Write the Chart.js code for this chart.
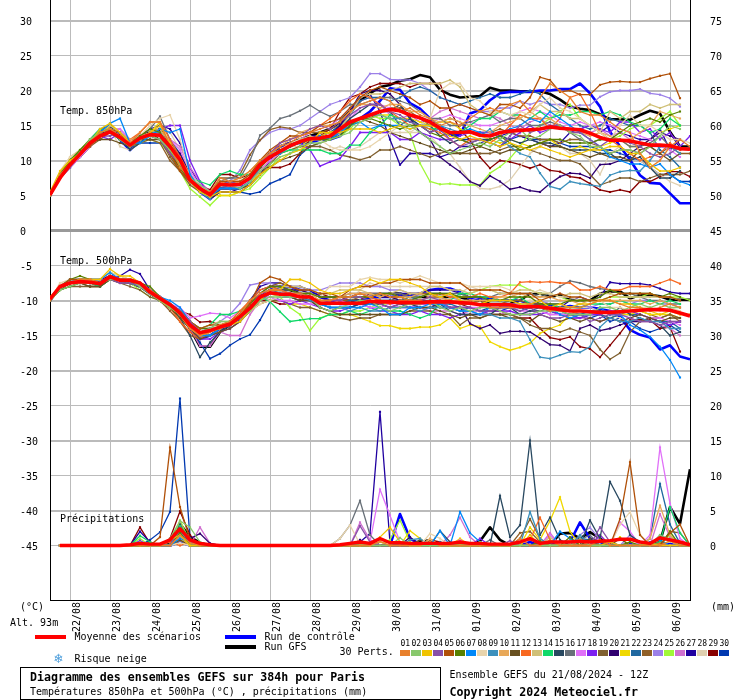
<!DOCTYPE html>
<html><head><meta charset="utf-8">
<style>
html,body{margin:0;padding:0;background:#fff}
#wrap{position:relative;width:740px;height:700px;overflow:hidden;font-family:"DejaVu Sans Mono",monospace;font-size:10px;color:#000}
canvas{position:absolute;left:0;top:0}
.t{position:absolute;white-space:pre;line-height:12px;height:12px}
.s{position:absolute}
.b{font-weight:bold;font-size:11.6px}
</style>
<script src="https://cdn.jsdelivr.net/npm/chart.js@4"></script>
</head><body><div id="wrap"><canvas id="c" width="740" height="700"></canvas>
<div class="t" style="left:60px;top:105px">Temp. 850hPa</div>
<div class="t" style="left:60px;top:255px">Temp. 500hPa</div>
<div class="t" style="left:60px;top:513px">Précipitations</div>
<div class="t" style="left:20px;top:601px">(°C)</div>
<div class="t" style="left:10px;top:617px">Alt. 93m</div>
<div class="t" style="left:711px;top:601px">(mm)</div>
<div class="s" style="left:35px;top:635px;width:31px;height:4px;background:#f00"></div>
<div class="t" style="left:74.5px;top:631px">Moyenne des scénarios</div>
<div class="s" style="left:225px;top:635px;width:31px;height:4px;background:#00f"></div>
<div class="t" style="left:264.5px;top:631px">Run de contrôle</div>
<div class="s" style="left:225px;top:645px;width:31px;height:4px;background:#000"></div>
<div class="t" style="left:264.5px;top:641px">Run GFS</div>
<div class="t" style="left:339.5px;top:646px">30 Perts.</div>
<div class="t" style="left:54px;top:652px;font-size:14px;color:#4f9fdc">❄</div>
<div class="t" style="left:74.5px;top:653px">Risque neige</div>
<div class="s" style="left:20px;top:667px;width:419px;height:31px;border:1px solid #000"></div>
<div class="t b" style="left:30px;top:671px">Diagramme des ensembles GEFS sur 384h pour Paris</div>
<div class="t" style="left:30px;top:686px">Températures 850hPa et 500hPa (°C) , précipitations (mm)</div>
<div class="t" style="left:449.5px;top:669px">Ensemble GEFS du 21/08/2024 - 12Z</div>
<div class="t b" style="left:449.5px;top:686px">Copyright 2024 Meteociel.fr</div>
</div>
<script>
const dayLabels=["22/08","23/08","24/08","25/08","26/08","27/08","28/08","29/08","30/08","31/08","01/09","02/09","03/09","04/09","05/09","06/09"];
const leftTicks=[30,25,20,15,10,5,0,-5,-10,-15,-20,-25,-30,-35,-40,-45];
const rightTicks=[75,70,65,60,55,50,45,40,35,30,25,20,15,10,5,0];
const memberColors=["#e8802c","#88c86c","#f0c400","#8850a8","#b05008","#588000","#0088f8","#e8d4ac","#3c90bc","#e8a858","#685020","#f86820","#d0c078","#10d868","#284860","#687078","#e070f8","#7c20f0","#806030","#300070","#f0d800","#2068a0","#906028","#9c80e8","#a0f838","#d070d0","#2000a0","#e0d0b0","#880000","#0038b0"];

const t850Mean=[5.1,7.5,9.4,10.9,12.5,13.5,14.1,13.3,12.2,13.2,13.7,13.6,12,10.1,7.2,6,5.1,6.6,6.5,6.6,7.5,9.4,10.5,11.3,12.1,12.7,13.1,13.2,13.5,14.5,15.5,16,16.5,17,17.3,17.1,16.5,16.1,15.5,14.6,14,14,14.1,13.6,13.5,14,14.2,14.3,14.4,14.5,14.8,14.6,14.5,14.4,13.9,13.3,12.9,12.9,12.8,12.5,12.2,12.2,12.1,11.7,11.6];
const t850Control=[5,8,10,11,12.5,13.5,14.5,13,11.5,13,14,14,12,10,7.5,5.5,4.5,6,6,6,7,9,11,12,12.5,12.5,12.5,13,13,13.5,15,16,17,18.5,20.3,20.1,18.2,17.4,16,14.4,13.6,13.6,16.7,17.2,18.6,19.6,19.8,19.8,19.8,20,20,20.2,20.2,21,19.6,17.7,14.1,12,10.1,7.9,6.8,6.7,5.3,3.9,3.9];
const t850Gfs=[5,8,10,11,12.5,14,15,13.5,12,13.5,14,14.5,12,10.5,7.5,6,5,6.5,6.5,6.5,7.5,9.5,11,12,12.5,13,13.5,14,14.5,15.5,17,18.5,19.6,20.5,20.8,21.4,21.6,22.2,21.9,20.1,19.4,19,19.1,19.2,20.4,20,20,19.9,19.9,19.9,19.5,18.7,17.7,17.4,17.2,16.6,15.9,15.9,15.8,16.5,17.1,16.7,14.1,12,12];

const t850m01=[5,8,9.5,11,12.5,14,14.5,13.5,12.5,14,15.5,15.5,12,9,7.5,6,5.5,7.5,7,7.5,8.5,10,11,12,12.5,13.5,14,14.5,15,15.5,17,18,18.5,19,18.5,17,17.5,16.5,16,15,15.5,15,16,17,17.5,17,18,18.5,17,19,21,20,19,17,16.5,16.5,15.5,14.5,14,11,9,10,12,13,12];
const t850m02=[5,7.5,9.5,11,13,14,14.5,13,12,13,13.5,13,11.5,9.5,7.5,6.5,5.5,6.5,6.5,6,7,8.5,9.5,10.5,11,12,12.5,12.5,13,13.5,14,15.5,16,16.5,16,15.5,15,14,13,12,11,11.5,12,12.5,12,13,14,14.5,13,13.5,14.5,15,14,13.5,12,12,11,11.5,11.5,11,12,13.5,15,14.5];
const t850m03=[5.5,8.5,10,11,12.5,14.5,15.3,14,12.5,13,14,15,12.5,10,7,5.5,4.8,5.5,5.5,5.5,6.5,8,9,10,11,11.5,12.5,14,14,14,14.5,14.5,14.5,14,14.5,15,14.5,15,15,14.5,13.5,13,13.5,13,12.5,12,12.5,12,11.5,12,11.5,11,10.5,11,11.5,11.5,12,12,11,11,9.5,8.5,8.5,9];
const t850m04=[5,7.5,9,11,12.5,13.5,13.5,14,12.5,13,13.5,13,11,9.5,7.5,6,5,6.5,7,6.5,7.5,9.5,11,12.5,13,13.5,14.5,15,14.5,15.5,16.5,17.5,18,18,17,16.5,15.5,15,14,14.5,13,12,12.5,13,12.5,12,13.5,15,14,14.5,15,15,14,14,13,12,13,13,12.5,12,11,10.5,11,12];
const t850m05=[5,8,9.5,11,12,13.5,14.5,14,12,13,14,13.5,11,8.5,7,6,5.5,7,7,7,8,10,11.5,12.5,13.5,13.5,14,15,15.5,16,17.5,19,20,20.5,20,19.5,19,18,18.5,17.5,17.5,18,17.5,17,16.5,18,18,17.5,19,21.9,21.5,19.8,20,19.4,19.4,20.8,21.2,21.3,21.2,21.2,21.7,22.1,22.4,18.9];
const t850m06=[5,8,10,11.5,13,14,14.5,13,12.5,13.5,14.5,14,11.5,9,7,6,5.2,6.5,7,6.5,7.5,9,10.5,11.5,12,12.5,13,13,13,13.5,15,16,16,15.5,15,14.5,15,15,14,13.5,14,13,12.5,12,13,13.5,12.5,11.5,12,12.5,13,13,12.5,12.5,12.5,13,13,14,15,15.5,16,15.5,16.5,17];
const t850m07=[5,8,9.5,11,12.5,14,15.3,16,12.5,12.5,13.5,14.5,14,14.5,8,6,4.8,6,6,6,7,9.5,10.5,11,12,12.5,13,13.5,13,14,15,15.5,14.5,15,15,15,14.5,15,15,15,14,14,14.5,14,13.5,14,14.5,15,16,15.5,17,16,15,14,13,12,10.5,10,9.5,9.5,9,9.5,8,7,6.5];
const t850m08=[5,8.5,10.5,11.5,13,14,14.5,14,12.5,13.5,15,16,16.5,13,8,6.5,5.5,7,7,7,8,9.5,10.5,11.5,12.5,13,13,13,12,11.5,11.5,11.5,12,13,14,15,14,15,16,20,21,21,19,18.5,17,17,16.5,17,16.5,18,19,17.5,17,16,15,14,13,15,16.5,15,15,14,13,13,12.5];
const t850m09=[5,8,9.5,11,12.5,14,14.5,13,12,13,14,14,12,10,7.5,5.5,4.5,6.5,6,6,7,9,10.5,11.5,12,12.5,13,13,13.5,14,15.5,16,16.5,16.5,16,16,15.5,15,16,15,14.5,14,14,13.5,14.5,13,12,11,10.5,8.2,6.3,5.9,7,6.7,6.5,6.3,7.9,8.4,8.6,8.5,10,12,12,11];
const t850m10=[5,8,9.5,11,12.5,14,14.5,14,13,13.5,14,14.5,12.5,10,8,6,5,7,6.5,7,8,9.5,11,12,13,14,14.5,15,15,15.5,17,18,18,17.5,18,18,17,17,16,15.5,16,15.5,15,14.5,14,15,15.5,16,17,16,16,15,14,14,13.5,14,13.5,13,13,14,15,17,16.5,16];
const t850m11=[5,7.5,9.5,11,12.5,13,13,12.5,12,13,13,13,11,9,7,5.5,4.5,6,6,6,6.5,8,9,10,10.5,11,12,12.5,13,14,15.5,16,15.5,15,14,13.5,13,12.5,12,11.5,11,11,11.5,12,11.5,11,11.5,11.5,12,12.5,12,12,11.5,11,10.5,11,10.5,10.5,10,11.5,12,11,10,11];
const t850m12=[5,8,10,11,12.5,13.5,14,13.5,13,14,15.5,15.5,13,10.5,8,6,5,6.5,7,7,8,9.5,11,12.5,13,13.5,14,15,16,17,18.5,19.5,19,18,17,16,15,15,14.5,14,13,12,13,13,12.5,13.5,15,16.5,16,16,14.5,16,19,19.5,17,14,13,12,11,10,10.5,11,12.5,11.5];
const t850m13=[5,8,10.5,11.5,13,14,15,14,12,13,14,14.5,11.5,9,7,6,5,6.5,7,7.5,8.5,10,11,11.5,12.5,13,13.5,13,13.5,14.5,16.5,19,19.5,19.5,20,20.5,21,21,21,21,21.5,20.5,18,17,16.5,17,16.5,16,17,18,17,17,16,16,15,14,17,16,17,17,18,17.5,18,18];
const t850m14=[5,8,10,11.5,13,14.5,14,13,12,13,13.5,13,11,9,7.5,7,6.5,8,8.5,8,8,9.5,10.5,11,11.5,11.5,11.5,11.5,11,11,12.2,12.2,14,15,16.5,16,15.5,15,14.5,14.5,14,14,15,16,16,17,16.5,16.5,16,17,16,16.5,16.5,17,17,16.5,17,16.5,15.5,15,14,14.5,16,15];
const t850m15=[5,7.5,9.5,11,13,14.5,15,13.5,11.5,12.5,14,14.5,12,10,8,6,4.5,6,6,6,7,9.5,11,11.5,12,13,13,13,13,14.5,16,17,18,18,17,18,16,15,15,13.5,12.5,13,12.5,13,13,13.5,13,12.5,13,12.5,12.5,12,11.5,11.5,11.5,11,11,10,10,10.5,9,7.5,7.5,8.5];
const t850m16=[5,8,9.5,11,12.5,14,14.5,13,12.5,13.5,14.5,16.3,13,10.5,7.5,6,5,7,7.5,7.5,10,13.6,14.6,16,16.4,17.1,17.9,17,16.3,17,18,18,18.5,19,19,18.5,18,17,16,16,15,15,15.5,16,16.5,15.5,16,16,15,15,15.5,15,14,13,12.5,13,13,13,12,12,12.5,13.5,12,11.5,12];
const t850m17=[5,7.5,9,10.5,12,13.5,14,14.5,13,13.5,13.5,14,13,11.5,8.5,6.5,5,6,6,6.5,7,8.5,10,11,12,12.5,13,13,13.5,14.5,16,17.5,18,18,17.5,17,16.5,16,15.5,16,16.5,16,15.5,15,15,15.5,16,17,17.5,17,16.5,15.5,15,15.5,15,15.5,15,14.5,14,13.5,13,12,11.5,10.5];
const t850m18=[5,7.5,9.5,11,12.5,13.5,13,14,12.5,13,14,14.5,15,15,10,7,5,6,6.5,6,7,9,10.5,11,12,12.5,11.5,9.2,9.8,10.3,12,14,14,14,14,13,13,14,13.5,13,13,13.5,14,14,14,13.5,13,14,15,14,14.5,15,14.5,14.5,15,14.5,14,15.5,15.5,14,14.5,13,14,12,13.5];
const t850m19=[5,8,9.5,10.5,12,13.5,14,14,12,13,13.5,13,10.5,8.5,6.5,5.5,4.8,6,6,6,6.5,8,9.5,11,11.5,12,12,12,11.5,10.8,10.5,10.1,10.5,11.5,11.5,12,11.5,11,10.5,11,11.5,11,11,11,11,11.5,12,12,11.5,11,10.5,10,10,9.5,8,6.5,7,7.5,7.5,7,7.5,8,8,8,8.5];
const t850m20=[5,7.5,9.5,11,12.5,14,14,13,12,13,13.5,14,12.5,11,8,6,4.5,5.5,5.5,5.5,6.5,8,10,12,12.5,12.5,13,13,13.5,15,17,19.5,20,20,19.5,18,16,14,13,10.5,9.4,8.4,7,6.4,7.8,7,5.9,6.2,5.7,5.5,6.7,7.7,8.2,8.1,7.5,9.4,9.5,10,11,12,13,14,13.5,13];
const t850m21=[5,8,10,11,12.5,13.5,15,14,12,13,14,15.5,12,9.5,7,5.5,5,5,5,5.5,6.5,8.5,10,11,11.5,12,13,13.5,14,14.5,15,15.5,16,16.5,16.5,16,16,15.5,15,15.5,15.5,14.5,14,13.5,13,12.5,13,12.5,12,12.5,13,12,11.5,12,11.5,12,12.5,13,12,12,13,14,14.5,15];
const t850m22=[5,8,9.5,11,12.5,14,14.5,13.5,12,13,14,14,13,11,8,6,4.7,6,6,6,7,9,10.5,11.5,12,13,13,13.5,14,15,16.5,18.5,19,19,18.5,19,20,20.5,20,19,18.5,18,18.5,19,19.5,19,19,19.5,20,19.5,18,17,16,15,14.5,15,16,15.5,15,15,14,11.5,10.5,9];
const t850m23=[5,7.5,9,10.5,12,13,14,13.5,12,12.5,13,12.5,10,8.5,7,6,5.2,7.5,7.5,8,10.8,12.9,14.4,14.8,14.6,14,14,14,14.5,15,15.5,16,16,17,17.5,17.5,17,16,15,15.5,16,15.5,14,14,14,14.5,14,13.5,13.5,13,13,12.5,13,13,12.5,12,11,11.5,11.5,11,12,11,12,11,11];
const t850m24=[5,7.5,9,10.5,12,13.5,14,14,13,13.5,13.5,13,12,10.5,8,6.5,5,6.5,7,8.6,11.5,12.9,14,14.5,14.5,15,16,17,18,18.5,19,20.5,22.4,22.4,21.6,21.5,21.5,21,20,19,18.5,18,17.5,17,17,17.5,17.5,18.5,18,18.5,18,18,17.5,17.9,17.9,19.1,19.8,20,20,20.2,19.6,19.4,18.9,17.7];
const t850m25=[5,8,10,11.5,12.5,13.5,14,13,12,12.5,13,12.5,11,8.5,6,4.8,3.6,5,5,5.5,6,7.5,9,10.5,11,11.5,12,12.5,13,13.5,14.5,16,16.5,16,16,15,13.9,9.6,7,6.6,6.7,6.5,6.5,6.5,8.2,9.1,10.3,12,14,15,16,17,18,16,15,14,13,13.5,14.5,15,15,16,17,15];
const t850m26=[5,7.5,9,10.5,12,13.5,14.5,14.5,13,13,14,14,13,12,9,7,5.5,6.5,6.5,6.5,7,8.5,10,11,12,13,14,14.5,15,16,17.5,18.5,19,18,16.5,16,16.5,15.5,16,17,17.5,17,16.5,16,16.5,16,15,14.5,15.5,16,15,14.5,14.5,14,14,14.5,13.5,14,13,12.5,12,12,12,11.5];
const t850m27=[5,7.5,9.5,11,12.5,14,14.5,13.5,12,13.5,14.5,15,14.5,12.5,9,6.5,4.5,5.5,5.5,6,7,9.5,11,12,12.5,13,13.5,13.5,14,15,17,19,19.5,17,13,9.4,11,11,11,10.5,11,12,12,12.5,13,13.5,14,13.5,13,12.5,12,12.5,14,14.5,15,14,15,14,13.5,13,13,14.5,11.5,13];
const t850m28=[5,8,10,11,12.5,14,14.5,12,11.5,12.5,13.5,15,14,11.5,8,6,5,6.5,6.5,6.5,7.5,9,10,11,12,12,11.5,11.5,11.5,12,11.5,12,13,14,14,14,14,14,13.5,12,11,9,7,6,5.9,6.3,7.2,9.1,11,12,13,12,11,11,10,8,11,12,11,10,9,8,7,6.4];
const t850m29=[5,8,9.5,11,12.5,13.5,14,13,12,13.5,14,13,11,9,7,6.5,5.8,8,8,7.5,8,9,9,9,9.5,11,13,13.5,14.5,17,19,19.5,20.5,21,21,21,20.5,21,21,21,17.2,14.4,12.9,10.5,8.9,10,9.8,9.4,8.9,9.4,8.6,8.4,7.7,7.5,6.7,5.8,5.5,5.8,5.5,7,7,7.7,8.4,8.4,7.7];
const t850m30=[5,7.5,9,10.5,12,13.5,14,13,11.5,12.5,12.5,12.5,12,9.5,7,5.5,4.5,5.5,5.5,5.5,5.2,5.5,6.7,7.3,8,10.8,12,12.5,13,13.5,15,15.5,16,17,17,15,16,15,14,15,14,13,13,13,12.5,12,13,13.5,13,13,13,12.5,12,12,12,11.5,11.5,11,10.5,10,9,8,8,7,7];

const t500Mean=[-9.8,-8,-7.5,-7.3,-7.4,-7.6,-6.6,-7.1,-7.1,-7.5,-8.8,-9.7,-10.6,-11.8,-13.5,-14.6,-14.3,-13.8,-13.4,-12.3,-11.1,-9.5,-8.9,-9.1,-9.1,-9.5,-9.5,-10.4,-10.4,-10.4,-10.4,-10.4,-10.1,-10.2,-10.2,-10.3,-10.3,-10.3,-10.2,-10.2,-10.2,-10.3,-10.4,-10.6,-10.6,-10.6,-10.6,-10.9,-10.9,-10.9,-11.1,-11.3,-11.5,-11.5,-11.6,-11.7,-11.7,-11.6,-11.5,-11.4,-11.3,-11.3,-11.4,-11.8,-12.2];
const t500Control=[-10,-8,-7.5,-7,-7,-7.5,-6.5,-7,-7,-7.5,-8.5,-9.5,-10.5,-11.5,-13.5,-15.5,-15,-14,-13.5,-12.5,-11,-9.5,-8.5,-8,-8,-8.5,-8.5,-9.5,-10,-10.5,-10.5,-10,-9.5,-9.5,-9.5,-9.3,-9.3,-9,-8.5,-8.3,-8.3,-8.8,-9.7,-9.7,-9.7,-10,-10,-10,-10.5,-10.5,-10.8,-11,-10.8,-11,-11,-11.2,-11.5,-12.3,-14.2,-14.9,-15.3,-17,-16.4,-18,-18.4];
const t500Gfs=[-10,-8,-7.5,-7,-7,-7.5,-6.5,-7,-7.5,-8,-9,-10,-11,-12,-14,-16.6,-16.6,-14.5,-13.5,-12.5,-11,-9.5,-8.5,-8.5,-8.5,-9,-9.5,-10.5,-10.5,-10,-10,-10,-9.5,-9.5,-9,-9,-9.5,-9.5,-9.5,-9.5,-9.5,-9.5,-10,-10,-10.5,-10.5,-10.5,-10,-9,-9,-9.5,-9.2,-9.9,-10,-10,-9,-8.7,-8.7,-9.7,-9.2,-9.2,-9.4,-9.9,-9.9,-9.9];

const t500m01=[-10,-8,-7.5,-7,-7,-7.5,-6.5,-7,-7,-7.5,-8.5,-9.5,-10.5,-12,-14,-15,-14.5,-13.5,-13,-12,-10,-9,-8.5,-8.5,-9,-9,-9.5,-10,-10,-9.5,-9.5,-9,-9.5,-9,-9.5,-9.5,-10,-10,-10.5,-10,-10,-10.5,-10,-10.5,-11,-11,-11,-11,-10.5,-11,-11.5,-11,-11,-11,-10.5,-10,-10,-10.5,-11,-11,-11.5,-11,-10.5,-11];
const t500m02=[-10,-8.5,-8,-7.5,-7.5,-7.5,-7,-7,-7,-8,-9,-10,-11,-12,-13.5,-14.5,-14,-13,-13,-12.5,-11.5,-10,-9.5,-9.5,-9.5,-9.5,-9.5,-11,-11.5,-11,-10.5,-10,-10,-11,-11.5,-11,-10.5,-10.5,-10,-11,-11.5,-11,-11.5,-11,-11,-11.5,-12,-12,-12,-11.5,-11.5,-11.5,-12,-12,-12,-11,-11,-11.5,-11,-10.5,-11,-10.5,-11,-11];
const t500m03=[-9.5,-8,-7.5,-7,-7,-7,-5.5,-6.5,-6.5,-7.5,-8.5,-10,-11,-12,-13.5,-15,-14.5,-14,-13.5,-13,-11.5,-10,-8.5,-8.5,-7,-7,-7.5,-8.5,-9,-9,-8.5,-8,-7,-7.5,-7,-7,-7.5,-8,-9,-9.5,-9,-10,-10.5,-10.5,-10,-10,-10,-10.5,-10.5,-10,-11,-10.5,-11,-10.5,-10.5,-10,-10,-10.5,-10.5,-11,-11.5,-12,-11.5,-12,-12];
const t500m04=[-10,-8,-7.5,-7.5,-7.5,-7.5,-7,-7.5,-7.5,-8,-9,-9.5,-10.5,-11.5,-13,-14.5,-14,-14,-13.5,-12.5,-11,-9,-8.5,-8.5,-9,-9,-9.5,-10.5,-10,-10,-9.5,-9.5,-10,-10.5,-11,-10.5,-10,-10,-9.5,-10,-11,-11,-11,-11.5,-11.5,-11,-11,-11.5,-11,-12,-12.5,-12.5,-12,-12,-13,-12.5,-12,-12,-12.5,-13,-13,-13.5,-13,-13];
const t500m05=[-10,-8,-7,-7,-7,-7.5,-6.5,-7,-7,-7.5,-8.5,-9.5,-10.5,-11.5,-13,-14,-13.5,-13.5,-13,-12,-10.5,-7.5,-6.6,-7,-8,-8.5,-8.5,-9,-9,-9.5,-8.5,-8,-8,-7.5,-7.5,-7,-7,-7,-7.5,-7.5,-7.5,-7.5,-8.5,-8.5,-8.5,-8.5,-9,-9,-9,-10,-9.5,-9,-9.5,-9.5,-10,-10,-9.5,-9,-9,-9,-9,-9.5,-9.5,-10];
const t500m06=[-10,-8,-7,-6.5,-7,-7.5,-6.5,-7,-7.5,-7.5,-8,-9.5,-10.5,-11.5,-13,-14,-14,-14,-13,-12,-10.5,-9,-8,-8,-8.5,-9,-9,-9.5,-9.5,-9.5,-9.5,-9.5,-9.5,-9,-9,-9.5,-10,-9.5,-9,-9,-9,-9.5,-9.5,-9.5,-10,-10,-9.5,-9.5,-9.5,-10.5,-10.5,-10.5,-10,-10,-10,-9.5,-8.5,-9,-9,-9,-9,-9.5,-9,-9.5];
const t500m07=[-10,-8,-7,-7,-7,-7,-6,-7,-7,-8,-9,-9.5,-10,-11,-13,-15,-15,-14,-13,-12.5,-11,-9.5,-9,-9,-9,-9.5,-9.5,-10.5,-11,-11,-11,-11,-10.5,-11,-12,-12,-11,-11,-10.5,-10.5,-11,-11.5,-11.5,-12,-11,-11,-11,-11,-10.5,-11,-11,-12,-12.5,-12,-12,-11,-12,-12,-13.5,-14.2,-15.2,-16.6,-18.5,-21];
const t500m08=[-10,-7.5,-7,-7,-7,-7,-6,-6.5,-7,-7.5,-9,-10,-11,-11.5,-13,-14,-14,-13.5,-13,-12.5,-11.5,-10.5,-10,-9.5,-9,-9,-9,-9.5,-8,-8,-8,-7,-6.7,-7,-7,-7.5,-7,-6.5,-7,-7.5,-7.5,-7.5,-8,-8,-8,-8,-8.5,-9,-9,-8.5,-9,-9.5,-9.5,-10,-10,-10,-11,-11,-11.5,-11,-11,-11.5,-11,-11.5];
const t500m09=[-10,-8,-7.5,-7,-7.5,-7.5,-6.5,-7,-7.5,-8,-9,-10,-10.5,-12,-13.5,-15,-15,-14,-13.5,-12.5,-11,-10,-9,-9,-9.5,-9.5,-10,-10.5,-11,-11,-11.5,-11,-11.5,-11.5,-11,-11,-11,-11.5,-11,-11,-11,-11.5,-11.5,-12,-12,-12.5,-12.5,-13,-15.6,-18.1,-18.3,-17.8,-17.3,-17.4,-16.6,-13.8,-12.5,-13,-13,-12.5,-13,-13,-14,-14];
const t500m10=[-10,-8,-7.5,-7.5,-7.5,-7.5,-6.5,-7,-7.5,-7.5,-8.5,-9.5,-10.5,-12,-14,-15,-14.5,-13.5,-13.5,-12.5,-11.5,-10,-9,-9,-9,-9,-9,-10,-10,-9.5,-9,-9,-9,-9.5,-9,-9.5,-9.5,-9,-9.5,-9.5,-10,-10,-10,-10,-10,-9.5,-9.5,-9,-9.5,-9.5,-9.5,-10,-10,-10.5,-10,-10,-10,-10,-10,-10,-10.5,-10,-10.5,-11];
const t500m11=[-10,-8.5,-8,-7.5,-8,-8,-7,-7.5,-7.5,-8,-9,-10,-11,-12.5,-14,-15.5,-15,-14.5,-14,-13,-11.5,-10,-9,-9,-9.5,-10,-10,-11,-11.5,-12,-12,-12,-12,-12,-12,-12,-11.5,-11,-11,-11.5,-12,-12.5,-12,-12.5,-12,-12,-12.5,-12.5,-13,-12,-12.5,-13,-12.5,-13,-12.5,-13,-12.5,-13,-12.5,-12,-12.5,-13,-12.5,-12.5];
const t500m12=[-10,-8,-7.5,-7,-7,-7.5,-6.5,-7,-7,-8,-9,-10,-11,-13,-14.5,-15.5,-14.5,-13.5,-13,-11.5,-10,-8.5,-8,-8.5,-9,-9.5,-9.5,-10,-10,-9.5,-9.5,-9,-9.5,-10,-10.5,-10,-10,-10,-9.5,-9,-9.5,-9.5,-9.5,-9,-9.5,-9.5,-9,-7.4,-7.3,-7.4,-7.3,-7.5,-7.5,-8.5,-8.5,-8,-8.5,-8.5,-8,-8,-8,-7.5,-7,-7.6];
const t500m13=[-10,-8,-7,-7,-7,-7,-6,-6.5,-7,-7.5,-8.5,-9.5,-10.5,-11.5,-13,-14,-13.5,-13,-13,-12,-10.5,-9.5,-8.5,-8,-8,-8,-8.5,-9,-9,-8.5,-8.5,-8.5,-9,-9.5,-9,-8.5,-9,-9,-8,-8,-8.5,-8.5,-9,-8.5,-8.5,-9,-9,-8.5,-8.5,-9,-9,-9.5,-9,-9,-9.5,-9,-9,-9.5,-9.5,-9.5,-9.5,-9.5,-9.5,-10];
const t500m14=[-10,-8.5,-8,-7.5,-7.5,-8,-7,-7,-7.5,-8,-9,-10,-10.5,-11.5,-13,-14,-13.5,-12,-12,-11.5,-10.5,-9.5,-10.2,-11.6,-13,-12.8,-12.6,-12.6,-12,-12,-11.5,-12,-11.5,-11,-11.5,-11.5,-12,-12.5,-12,-10.5,-10,-9,-9,-9.5,-9.5,-10,-10,-9.5,-10.5,-11,-10.5,-11,-11,-11,-10.5,-10.5,-10.5,-10,-10.5,-10.5,-10,-10.5,-10,-10.5];
const t500m15=[-10,-8,-7.5,-7,-7.5,-8,-6.5,-7,-7.5,-8,-9,-10,-11,-12.5,-15,-18.1,-16,-14.5,-13.5,-12.5,-11,-9.5,-9,-9,-9.5,-10,-10,-11,-11.5,-11,-11,-10.5,-10.5,-10.5,-11,-10.5,-10.5,-11,-11,-10.5,-11.5,-12,-12,-12,-12,-11,-11,-12,-11.5,-11.5,-11,-11.5,-12,-12,-11.5,-11.5,-12,-11,-12,-12.5,-13,-13.5,-15,-14.5];
const t500m16=[-10,-8,-7.5,-7,-7,-7.5,-6.5,-7,-7,-7.5,-8.5,-9.5,-10.5,-11.5,-13.5,-15,-15,-14,-13.5,-12.5,-11.5,-10,-9,-8.5,-8.5,-9,-9,-9.5,-9.5,-9.5,-9,-9,-9,-9,-9,-9,-9.5,-9.5,-9,-9,-9,-9,-9.5,-9.5,-9.5,-9,-9,-9,-9,-9.5,-9,-8,-7.2,-7.5,-8,-8.3,-8.5,-9,-9,-9.5,-10,-10,-10.5,-10.5];
const t500m17=[-10,-8,-7,-7,-7.5,-7.5,-6.5,-7,-7,-7.5,-8.5,-9.5,-10.5,-11,-12.5,-12.2,-11.8,-11.9,-12.5,-11.5,-10.5,-9.5,-9.5,-10,-10,-10.5,-10.5,-10.5,-10,-10,-10.5,-10.5,-11,-11,-10.5,-11,-11,-10.5,-10.5,-10.5,-11,-11,-11,-11,-10.5,-10.5,-11,-11.5,-11.5,-11.5,-12,-12,-12,-12,-12,-11.5,-12,-12,-12.5,-12,-12.5,-12.5,-13,-13.5];
const t500m18=[-10,-8,-7.5,-7.5,-7.5,-7.5,-7,-7,-7.5,-8,-9,-9.5,-10.5,-12,-13.5,-15.5,-15.5,-14.5,-14,-13,-11.5,-10,-9.5,-10,-10.5,-10,-10.5,-11,-11.5,-11.5,-11,-10.5,-11,-11.5,-11.5,-12,-12,-11.5,-12,-12,-12.5,-12,-12,-12,-11.5,-11.5,-11.5,-12,-12,-12,-11.5,-12,-12.5,-12.5,-12,-12,-11.5,-11.5,-11.5,-12,-12.5,-13,-13.5,-13];
const t500m19=[-10,-8.5,-8,-8,-8,-8,-7,-7.5,-8,-8.5,-9.5,-10,-11,-12,-14,-15,-15,-14.5,-14,-13,-11.5,-10.5,-10,-10,-10.5,-11,-11,-11.5,-12,-12.5,-12.8,-12.5,-12.5,-12,-12,-12,-11.5,-11.5,-11.5,-12,-12,-13.5,-12.5,-12.5,-12,-12,-12,-12.5,-13.5,-14,-14,-14.5,-14,-14.5,-15,-17,-18.4,-17.5,-14.5,-13,-12.5,-12.5,-12,-12.5];
const t500m20=[-10,-8,-7.5,-7,-7,-7,-6.5,-7,-7.5,-8,-9,-10,-11,-12,-14,-15.5,-15,-14,-13,-12,-10,-8.5,-8,-8,-8.5,-8.5,-9,-9.5,-9.5,-9.5,-9.5,-9,-9,-9.5,-9.5,-10,-10.5,-10.5,-10.5,-11,-11,-10.9,-13.3,-14,-13.5,-14.7,-14.4,-14.4,-14.5,-15.4,-16.3,-16.4,-17.2,-14,-13.5,-14.3,-14,-13.5,-13,-13,-12.5,-13,-13.5,-13];
const t500m21=[-10,-8,-7,-7,-7,-7,-6,-6.5,-7,-8,-9,-10,-11,-12,-14,-15,-14.5,-14,-13.5,-13,-11.5,-10.5,-10,-10,-10.5,-10.5,-11,-11.5,-12,-12,-12,-12.5,-13,-13.6,-13.6,-14,-14,-13.8,-13.8,-13.5,-12.5,-14,-13.5,-13.7,-15.9,-16.6,-17.1,-16.7,-16.1,-14.7,-14,-13.5,-12,-11.5,-11.5,-12,-11.5,-12,-12,-11.5,-12,-12,-12,-12.5];
const t500m22=[-10,-8,-7.5,-7,-7.5,-7.5,-6.5,-7,-7,-7.5,-8.5,-10,-10.5,-12,-13.5,-15,-15,-14,-13.5,-12.5,-11,-9.5,-9,-9,-9,-9.5,-10,-10.5,-10.5,-10.5,-10,-10,-10,-10.5,-10,-10,-9.5,-10,-10,-10.5,-10.5,-11,-11,-11.5,-11.5,-11,-11,-11,-11.5,-11,-11.5,-12,-12,-12.5,-12,-12,-12.5,-12,-12,-12,-12.5,-13,-13,-14];
const t500m23=[-10,-8.5,-7.5,-7.5,-8,-8,-7,-7,-7.5,-8,-9,-10,-11.5,-13,-15,-15.5,-15,-14.5,-13.5,-12.5,-10.5,-9,-8,-7.5,-8,-8.5,-9,-9.5,-9.5,-10,-10,-9.5,-9.5,-10,-10,-9.5,-9,-9,-9,-9.5,-10,-10.5,-10.5,-10,-10.5,-10.5,-10,-10,-10.5,-10.5,-11,-11.5,-11.5,-12,-12,-12,-12.5,-12,-11.5,-11.5,-12,-12.5,-12,-13];
const t500m24=[-10,-8,-7,-7,-7,-7,-6.5,-7,-7,-8,-9,-9.5,-10.5,-11.5,-13,-14,-14,-13,-12,-10.4,-7.8,-7.5,-7.5,-8,-8,-8.5,-8.5,-8.5,-8,-7.5,-7.5,-7.5,-8,-8,-8.5,-8.5,-9,-9,-9,-9,-9.5,-10,-10,-9.5,-10,-10,-10.5,-10.5,-10.5,-10,-10.5,-10.5,-11,-10.5,-11,-10.5,-10.5,-10,-10.5,-10,-10,-10.5,-10.5,-11];
const t500m25=[-10,-8.5,-8,-7.5,-7.5,-8,-7,-7,-7.5,-8.5,-9.5,-10,-11,-12,-13.5,-14.5,-14,-13.5,-13,-12,-10.5,-9.5,-9,-9.5,-11,-12,-14.3,-12.5,-12,-12,-11.5,-11.5,-11,-10.5,-10.5,-10,-9.5,-9.5,-9,-9,-9.5,-9.5,-9,-8.5,-8,-7.8,-7.8,-7.8,-8.5,-9,-9,-9.5,-10,-10,-10,-10,-9.5,-9.5,-9.5,-9.5,-9,-9.5,-9.5,-9.5,-10];
const t500m26=[-10,-8,-7.5,-7,-7,-7.5,-6.5,-7,-7,-7.5,-9,-10,-11,-12,-14,-16.5,-16.5,-14.5,-15,-15,-12,-10,-9,-9,-9.5,-10,-10,-10.5,-10.5,-10.5,-10.5,-10.5,-10.5,-10.5,-11,-11,-11,-11,-11.5,-11.5,-11.5,-12,-11.5,-11.5,-12,-12,-11.5,-12,-12,-11.5,-12,-12,-12.5,-12.5,-12.5,-13,-12.5,-13,-12.5,-13,-13,-13.5,-14,-15];
const t500m27=[-10,-8,-7.5,-7,-7.5,-7.5,-7,-6.5,-5.6,-6.2,-8.5,-10,-10.5,-11.5,-13,-14.5,-14,-14,-13,-12,-10,-8,-7.5,-7.5,-8,-8,-8.5,-9.5,-10,-9.5,-9.5,-9,-9.5,-9,-9,-9,-9,-9,-8.5,-8.5,-8.5,-9,-9.5,-9.5,-9.5,-10,-10,-10,-10.5,-10.5,-10.5,-11,-10,-9.5,-10,-9.5,-7.4,-7.6,-7.6,-7.6,-7.8,-8.3,-8.8,-9,-9];
const t500m28=[-10,-7.5,-7.5,-7,-7.5,-7.5,-6.5,-7,-7.5,-7.5,-9,-10,-11,-12,-14,-15,-14.5,-13.5,-13,-12,-11,-10,-9.5,-9,-9,-9,-9.5,-10,-10.5,-10,-10,-8.5,-7.5,-8,-8,-8,-8,-8,-8,-8,-8.5,-9,-8,-8.5,-8.5,-9,-9,-10,-10,-10,-10.5,-10.5,-11,-11,-11,-11.5,-12,-12.5,-13,-13,-13,-13,-13,-13];
const t500m29=[-10,-8,-7.5,-7.5,-7.5,-7.5,-7,-7,-7,-8,-9,-10,-10.5,-11.5,-12,-13.1,-13,-13.5,-13.5,-12.5,-11,-10,-10,-10.5,-10.5,-10,-9.5,-9,-9.5,-9.5,-10,-10,-9,-9,-9.5,-9.5,-10,-10.5,-10,-10,-10,-10.5,-11,-11.5,-11.5,-11.5,-12,-12.5,-12.5,-14,-15.3,-15.6,-15.2,-16.6,-16.9,-18.1,-16.4,-14.7,-12.8,-12.7,-12.8,-14,-13.8,-17.3];
const t500m30=[-10,-8,-7.5,-7.5,-7.5,-7.5,-6.5,-7,-7.5,-8,-9,-10,-11,-12,-14,-16,-18.3,-17.6,-16.4,-15.5,-14.9,-12.8,-10.2,-9.5,-9.5,-9.5,-10,-10.5,-11,-11,-11,-10.5,-10.5,-10,-10,-10.5,-11,-10.5,-10.5,-10.5,-11,-11.5,-11,-11.5,-11,-11.5,-11,-11.5,-11,-11,-11.5,-12,-12,-12,-12.5,-12,-13,-12.5,-13,-14,-14.5,-14,-13.5,-14.5];

const precipMean=[[8,.1],[9,.3],[10,.2],[11,.2],[12,.8],[13,2.4],[14,.8],[15,.3],[16,.1],[29,.1],[30,.3],[31,.5],[32,.3],[33,1],[34,.4],[35,.4],[36,.3],[37,.3],[38,.3],[39,.3],[40,.3],[41,.5],[42,.3],[43,.3],[44,.2],[45,.2],[46,.2],[47,.5],[48,1],[49,.3],[50,.5],[51,.5],[52,.5],[53,.6],[54,.5],[55,.6],[56,.7],[57,.9],[58,.9],[59,.5],[60,.3],[61,1.1],[62,.8],[63,.5],[64,.1]];
const precipControl=[[10,.1],[13,.5],[31,.1],[35,4.5],[36,1],[37,.2],[41,.5],[48,.5],[50,.3],[51,.5],[52,.5],[53,3.3],[54,1],[55,.5],[58,.2],[61,.3],[62,.2]];
const precipGfs=[[12,.5],[13,3.1],[14,1.2],[15,.4],[37,.5],[38,.8],[43,.6],[44,2.6],[45,.8],[51,1.7],[52,1.8],[53,1],[54,1.9],[55,1],[61,.5],[62,5.5],[63,3.1],[64,10.9]];
const precipM01=[[13,1.5],[14,.4],[33,.6],[38,.5],[47,1],[50,.8],[55,.8],[62,.7]];
const precipM02=[[9,.5],[12,1],[13,3.5],[14,2.6],[15,.5],[35,1.1],[43,.5],[53,1],[61,1.5],[62,.8]];
const precipM03=[[12,.8],[13,1.5],[33,1.2],[34,2.6],[35,.5],[48,1.5],[56,.5],[60,.3]];
const precipM04=[[9,.5],[13,2.5],[14,.5],[31,2.8],[32,.5],[41,.5],[46,.7],[55,2.6],[56,.5]];
const precipM05=[[11,1.2],[12,14],[13,5.5],[14,.8],[38,.5],[57,3.8],[58,11.9],[59,1.5],[62,1.8],[63,3]];
const precipM06=[[13,1.8],[49,.6],[52,1.2],[58,.5],[62,2]];
const precipM07=[[13,1],[14,.5],[30,.2],[39,2.1],[41,4.8],[42,1.8],[43,.5],[51,2],[52,1],[60,.5],[61,.8]];
const precipM08=[[13,.4],[29,1],[30,2.9],[31,.2],[38,1.7],[39,1],[57,3],[58,4.8],[59,1.5]];
const precipM09=[[13,2],[36,.8],[37,1],[48,4.8],[49,1],[53,1.5],[61,1.5],[62,.8]];
const precipM10=[[13,1.2],[33,.5],[38,1],[52,.8],[60,1],[61,5.7],[62,1.5]];
const precipM11=[[13,.8],[37,.8],[54,1],[55,.5],[57,1]];
const precipM12=[[12,.5],[14,.5],[47,.5],[48,.8],[49,4],[50,.8],[53,.6],[61,.3]];
const precipM13=[[13,1.3],[50,1.2],[56,.6],[62,.6]];
const precipM14=[[9,1.4],[10,.5],[13,2.8],[14,1],[61,.5],[62,5.5],[63,1.8]];
const precipM15=[[13,3],[37,.8],[39,2.1],[40,.5],[45,7.1],[46,1.2],[47,2.9],[48,15],[49,1.5],[50,4],[51,.8],[54,3.6],[55,1],[56,9.1],[57,6.4],[58,1.5],[59,.5]];
const precipM16=[[13,2.6],[29,1],[30,2.9],[31,6.4],[32,1.5],[44,.8],[53,.8],[54,1.5]];
const precipM17=[[13,2],[32,.5],[33,8],[34,4.3],[35,.5],[41,.8],[50,1.5],[52,.8],[57,3.3],[58,2],[60,1.5],[61,14],[62,6],[63,1]];
const precipM18=[[9,.7],[13,1.5],[40,.3],[43,1],[53,1],[55,1.5]];
const precipM19=[[13,1.5],[38,.3],[47,1],[48,3.8],[49,1],[52,.6],[54,.6],[62,2],[63,1.8]];
const precipM20=[[13,2],[14,1],[15,1.7],[16,.3],[31,.8],[36,1.2],[40,.5],[55,.8]];
const precipM21=[[13,.8],[36,2.1],[37,1],[41,1],[48,2.6],[49,.8],[50,3.5],[51,6.9],[52,2],[55,1.5],[57,1.2]];
const precipM22=[[13,.8],[39,.5],[53,1],[54,.8],[60,1],[61,8.8],[62,3],[63,.3]];
const precipM23=[[10,.5],[13,1.2],[38,.6],[47,1.8],[48,2],[49,.5],[56,.5],[61,.6]];
const precipM24=[[13,2.2],[31,.8],[53,1.5],[54,2.6],[55,.8],[58,1.5]];
const precipM25=[[9,1],[13,3.6],[14,.5],[34,.8],[35,3.6],[36,.5],[62,1.5]];
const precipM26=[[13,3.2],[15,2.6],[16,.3],[31,3.3],[32,.8],[40,1.5],[41,4],[42,1.2],[50,1.8],[61,4.5],[62,1.2]];
const precipM27=[[9,2],[10,.5],[13,3.4],[31,.5],[32,1.7],[33,19.1],[34,.4],[53,.7],[54,.8]];
const precipM28=[[13,.3],[30,.2],[38,.8],[58,.5]];
const precipM29=[[9,2.6],[10,.3],[12,1],[13,4.9],[14,1.5],[38,.8],[39,.5],[54,.8]];
const precipM30=[[10,.8],[11,1.9],[12,4.8],[13,21],[14,1],[15,.3],[52,.5]];

const t850Members=[t850m01,t850m02,t850m03,t850m04,t850m05,t850m06,t850m07,t850m08,t850m09,t850m10,t850m11,t850m12,t850m13,t850m14,t850m15,t850m16,t850m17,t850m18,t850m19,t850m20,t850m21,t850m22,t850m23,t850m24,t850m25,t850m26,t850m27,t850m28,t850m29,t850m30];
const t500Members=[t500m01,t500m02,t500m03,t500m04,t500m05,t500m06,t500m07,t500m08,t500m09,t500m10,t500m11,t500m12,t500m13,t500m14,t500m15,t500m16,t500m17,t500m18,t500m19,t500m20,t500m21,t500m22,t500m23,t500m24,t500m25,t500m26,t500m27,t500m28,t500m29,t500m30];
const precipMembers=[precipM01,precipM02,precipM03,precipM04,precipM05,precipM06,precipM07,precipM08,precipM09,precipM10,precipM11,precipM12,precipM13,precipM14,precipM15,precipM16,precipM17,precipM18,precipM19,precipM20,precipM21,precipM22,precipM23,precipM24,precipM25,precipM26,precipM27,precipM28,precipM29,precipM30];

const STEPS=65;
const toPoints=a=>a.map((v,i)=>({x:i,y:v}));
const precipPoints=pairs=>{const arr=[];for(let i=1;i<STEPS;i++){const f=pairs.find(p=>p[0]===i);arr.push({x:i,y:f?f[1]:0});}return arr;};
const memberDs=(pts,color,axis)=>({data:pts,borderColor:color,backgroundColor:color,borderWidth:1.3,pointRadius:1.5,pointBorderWidth:0,pointStyle:'rect',yAxisID:axis,order:3,tension:0});
const mainDs=(pts,color,w,order,axis)=>({data:pts,borderColor:color,borderWidth:w,pointRadius:0,yAxisID:axis,order:order,tension:0,borderJoinStyle:'round'});

const datasets=[];
[[t850Gfs,'y'],[t500Gfs,'y']].forEach(d=>datasets.push(mainDs(toPoints(d[0]),'#000',2.6,5,d[1])));
datasets.push(mainDs(precipPoints(precipGfs),'#000',2.6,5,'y1'));
[[t850Control,'y'],[t500Control,'y']].forEach(d=>datasets.push(mainDs(toPoints(d[0]),'#0000ff',2.6,4,d[1])));
datasets.push(mainDs(precipPoints(precipControl),'#0000ff',2.6,4,'y1'));
memberColors.forEach((c,k)=>{
  datasets.push(memberDs(toPoints(t850Members[k]),c,'y'));
  datasets.push(memberDs(toPoints(t500Members[k]),c,'y'));
  datasets.push(memberDs(precipPoints(precipMembers[k]),c,'y1'));
});
[[t850Mean,'y'],[t500Mean,'y']].forEach(d=>datasets.push(mainDs(toPoints(d[0]),'#ff0000',3.6,1,d[1])));
datasets.push(mainDs(precipPoints(precipMean),'#ff0000',3.4,1,'y1'));

const monoFont={family:'"DejaVu Sans Mono"',size:10};
const Y_MAX=230.5/7, Y_MIN=(230.5-600)/7, MM_OFFSET=45;
const noScalePadding=s=>{s.paddingTop=0;s.paddingBottom=0;s.paddingLeft=0;s.paddingRight=0;};
Chart.defaults.font.family='"DejaVu Sans Mono"';
new Chart(document.getElementById('c'),{
  type:'line',
  data:{datasets},
  options:{
    responsive:false,animation:false,devicePixelRatio:1,
    layout:{padding:{left:20,right:0,top:0,bottom:0},autoPadding:false},
    plugins:{legend:{display:false},tooltip:{enabled:false},title:{display:false}},
    scales:{
      x:{type:'linear',min:0,max:STEPS-1,
        afterBuildTicks:s=>{s.ticks=dayLabels.map((d,j)=>({value:2+4*j}));},
        afterFit:s=>{s.height=100;noScalePadding(s);},
        grid:{color:'#bbbbbb',lineWidth:1,drawTicks:false},
        border:{color:'#000',width:1},
        ticks:{autoSkip:false,maxRotation:90,minRotation:90,padding:2,labelOffset:7,color:'#000',font:monoFont,
          callback:(v)=>dayLabels[(v-2)/4]}
      },
      y:{type:'linear',position:'left',min:Y_MIN,max:Y_MAX,
        afterBuildTicks:s=>{s.ticks=leftTicks.map(v=>({value:v}));},
        afterFit:s=>{s.width=30;noScalePadding(s);},
        grid:{color:c=>c.tick&&c.tick.value===0?'#999999':'#bbbbbb',lineWidth:c=>c.tick&&c.tick.value===0?3:(c.tick&&c.tick.value%10===0?2:1),drawTicks:false},
        border:{color:'#000',width:1},
        ticks:{crossAlign:'far',padding:0,labelOffset:1.5,color:'#000',font:monoFont,autoSkip:false,callback:v=>String(v)}
      },
      y1:{type:'linear',position:'right',min:Y_MIN+MM_OFFSET,max:Y_MAX+MM_OFFSET,
        afterBuildTicks:s=>{s.ticks=rightTicks.map(v=>({value:v}));},
        afterFit:s=>{s.width=50;noScalePadding(s);},
        grid:{display:false,drawTicks:false},
        border:{color:'#000',width:1},
        ticks:{padding:20,labelOffset:1.5,color:'#000',font:monoFont,autoSkip:false,callback:v=>String(v)}
      }
    }
  }
});

const wrap=document.getElementById('wrap');
memberColors.forEach((c,k)=>{
  const n=String(k+1).padStart(2,'0');
  const sw=document.createElement('div');sw.className='s';
  sw.style.cssText=`left:${400+11*k}px;top:650px;width:10px;height:6px;background:${c}`;
  wrap.appendChild(sw);
  const lb=document.createElement('div');lb.className='t';lb.textContent=n;
  lb.style.cssText=`left:${400.5+11*k}px;top:638px;font-size:8px`;
  wrap.appendChild(lb);
});
</script>
</body></html>
